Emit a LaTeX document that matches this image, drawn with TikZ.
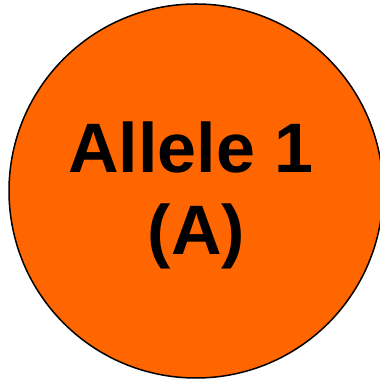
\documentclass[tikz,border=0pt]{standalone}
\usepackage{fontspec}
\setmainfont{Liberation Sans}
\definecolor{alleleorange}{HTML}{FF6600}
\begin{document}
\begin{tikzpicture}[x=1pt,y=1pt,
  allele/.style={circle, draw=black, line width=1.5pt, fill=alleleorange, minimum size=374pt, inner sep=0pt},
  label/.style={anchor=base, font=\fontsize{70}{82}\selectfont\bfseries, inner sep=0pt}]
  \useasboundingbox (0,0) rectangle (380,379);
  \node[allele] (disc) at (196,188) {};
  \node[label] (name) at (191,206) {Allele 1};
  \node[label] (sym) at (196.5,124) {(A)};
\end{tikzpicture}
\end{document}
